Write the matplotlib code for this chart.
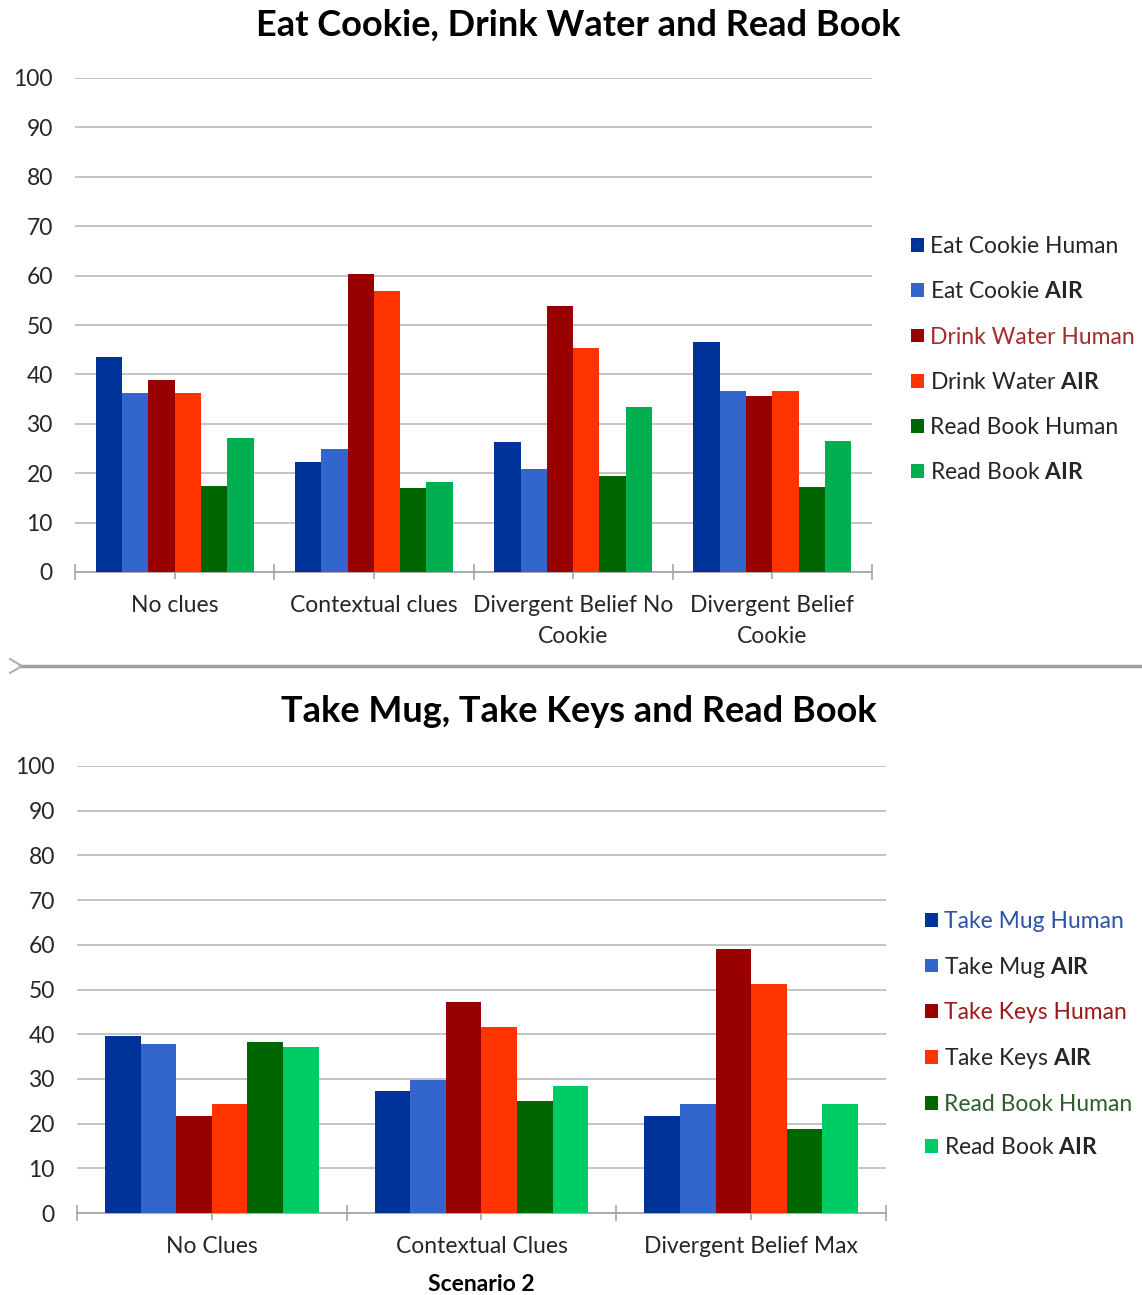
import matplotlib
matplotlib.use("Agg")
import matplotlib.pyplot as plt
import numpy as np
from matplotlib.patches import Patch
from matplotlib.lines import Line2D

plt.rcParams['font.family'] = ['Lato', 'DejaVu Sans']
plt.rcParams['mathtext.fontset'] = 'custom'
plt.rcParams['mathtext.rm'] = 'Lato'
plt.rcParams['mathtext.bf'] = 'Lato:bold'

# ---------------- data ----------------
top_title = "Eat Cookie, Drink Water and Read Book"
top_categories = ["No clues", "Contextual clues", "Divergent Belief No\nCookie", "Divergent Belief\nCookie"]
top_series = ["Eat Cookie Human", "Eat Cookie AIR", "Drink Water Human",
              "Drink Water AIR", "Read Book Human", "Read Book AIR"]
eat_cookie_human = [43.5, 22.2, 26.3, 46.6]
eat_cookie_air = [36.2, 24.8, 20.9, 36.7]
drink_water_human = [38.9, 60.4, 53.9, 35.7]
drink_water_air = [36.2, 56.8, 45.4, 36.7]
read_book_human_top = [17.5, 17.1, 19.5, 17.3]
read_book_air_top = [27.2, 18.3, 33.5, 26.5]

bot_title = "Take Mug, Take Keys and Read Book"
bot_xlabel = "Scenario 2"
bot_categories = ["No Clues", "Contextual Clues", "Divergent Belief Max"]
bot_series = ["Take Mug Human", "Take Mug AIR", "Take Keys Human",
              "Take Keys AIR", "Read Book Human", "Read Book AIR"]
take_mug_human = [39.6, 27.2, 21.6]
take_mug_air = [37.9, 29.7, 24.3]
take_keys_human = [21.8, 47.2, 59.0]
take_keys_air = [24.3, 41.7, 51.2]
read_book_human_bot = [38.3, 25.1, 18.9]
read_book_air_bot = [37.1, 28.3, 24.3]

y_ticks = [0, 10, 20, 30, 40, 50, 60, 70, 80, 90, 100]

# ---------------- styles ----------------
top_colors = ["#003399", "#3366CC", "#990000", "#FF3300", "#006600", "#00B050"]
bot_colors = ["#003399", "#3366CC", "#990000", "#FF3300", "#006600", "#00CC66"]
top_label_colors = ["#262626", "#262626", "#A52A2A", "#262626", "#262626", "#262626"]
bot_label_colors = ["#2E52A4", "#262626", "#9B1B1B", "#262626", "#2D5F2D", "#262626"]
GRID = "#BFBFBF"
TXT = "#262626"

W, H = 1142, 1295
fig = plt.figure(figsize=(W / 100, H / 100), dpi=100)


def fig_rect(x0, y0, x1, y1):
    return [x0 / W, 1 - y1 / H, (x1 - x0) / W, (y1 - y0) / H]


def legend_label(name):
    if name.endswith(" AIR"):
        return name[:-4] + r" $\bf{AIR}$"
    return name


def draw_chart(ax, categories, series_names, values, colors, label_colors,
               legend_anchor, label_spacing, bar_w=0.132):
    n = len(series_names)
    x = np.arange(len(categories))
    for i, (vals, col) in enumerate(zip(values, colors)):
        ax.bar(x + (i - (n - 1) / 2) * bar_w, vals, width=bar_w, color=col,
               edgecolor='none', zorder=3)
    ax.set_xlim(-0.5, len(categories) - 0.5)
    ax.set_ylim(0, 100)
    ax.set_yticks(y_ticks)
    ax.set_yticklabels([str(v) for v in y_ticks])
    ax.yaxis.grid(True, color=GRID, lw=1.3, zorder=0)
    ax.set_axisbelow(True)
    for s in ['top', 'right', 'left']:
        ax.spines[s].set_visible(False)
    ax.spines['bottom'].set_color("#A6A6A6")
    ax.spines['bottom'].set_linewidth(1.3)
    ax.set_xticks(x)
    ax.set_xticklabels(categories, fontsize=16.5, color=TXT, linespacing=1.62)
    ax.set_xticks(np.arange(len(categories) + 1) - 0.5, minor=True)
    ax.tick_params(axis='x', which='major', direction='out', length=5,
                   width=1.2, color="#A6A6A6", pad=11.5)
    ax.tick_params(axis='x', which='minor', direction='inout', length=11,
                   width=1.2, color="#A6A6A6")
    ax.tick_params(axis='y', length=0, pad=16, labelsize=16.5, labelcolor=TXT)
    handles = [Patch(facecolor=c, edgecolor='none') for c in colors]
    leg = fig.legend(handles, [legend_label(s) for s in series_names],
                     loc='upper left', bbox_to_anchor=legend_anchor,
                     frameon=False, fontsize=16.5, handlelength=0.55,
                     handleheight=0.55, handletextpad=0.3,
                     labelspacing=label_spacing,
                     borderpad=0, borderaxespad=0)
    for t, c in zip(leg.get_texts(), label_colors):
        t.set_color(c)
    return leg


ax1 = fig.add_axes(fig_rect(75, 78, 872, 572))
draw_chart(ax1, top_categories, top_series,
           [eat_cookie_human, eat_cookie_air, drink_water_human,
            drink_water_air, read_book_human_top, read_book_air_top],
           top_colors, top_label_colors, (911 / W, 1 - 236 / H), 1.06)
fig.text(578 / W, 1 - 25 / H, top_title, ha='center', va='center',
         fontsize=26, fontweight='bold', color='black')

ax2 = fig.add_axes(fig_rect(77, 766, 886, 1213))
draw_chart(ax2, bot_categories, bot_series,
           [take_mug_human, take_mug_air, take_keys_human,
            take_keys_air, read_book_human_bot, read_book_air_bot],
           bot_colors, bot_label_colors, (925 / W, 1 - 911 / H), 0.99)
ax2.set_xlabel(bot_xlabel, fontsize=16.5, fontweight='bold', color='black',
               labelpad=12)
fig.text(579 / W, 1 - 712 / H, bot_title, ha='center', va='center',
         fontsize=26, fontweight='bold', color='black')

# divider line
fig.add_artist(Line2D([20 / W, 1 / 1.0], [1 - 666 / H, 1 - 666 / H],
                      transform=fig.transFigure, color="#A0A0A0", lw=2.5))
fig.add_artist(Line2D([10 / W, 22 / W, 10 / W],
                      [1 - 659 / H, 1 - 666 / H, 1 - 673 / H],
                      transform=fig.transFigure, color="#B0B0B0", lw=1.5))

fig.savefig("out.png", dpi=100)
